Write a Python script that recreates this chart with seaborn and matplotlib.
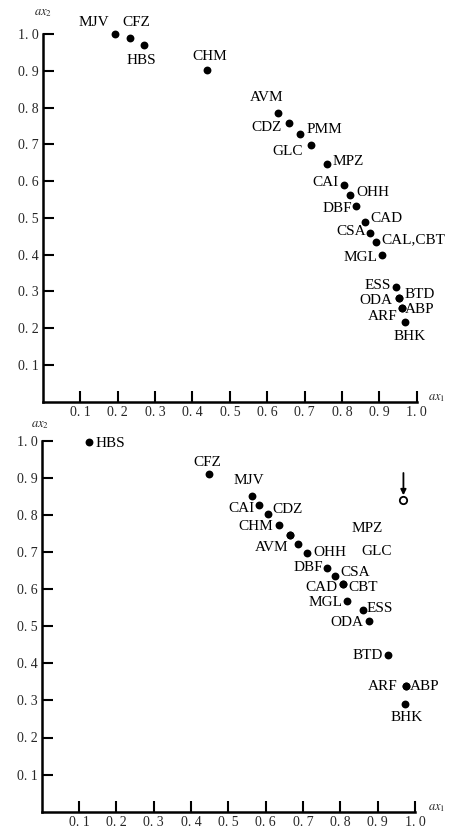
import matplotlib
matplotlib.use("Agg")
import matplotlib.pyplot as plt
import seaborn as sns
import pandas as pd

# ---------------- data ----------------
top_names = ["MJV", "CFZ", "HBS", "CHM", "AVM", "CDZ", "PMM", "GLC", "MPZ", "CAI",
             "OHH", "DBF", "CAD", "CSA", "CAL,CBT", "MGL", "ESS", "ODA", "BTD",
             "ARF", "ABP", "BHK"]
top_x = [0.194, 0.234, 0.271, 0.438, 0.629, 0.659, 0.689, 0.717, 0.760, 0.805,
         0.822, 0.838, 0.861, 0.874, 0.892, 0.907, 0.945, 0.952, 0.952,
         0.960, 0.960, 0.970]
top_y = [0.999, 0.988, 0.969, 0.901, 0.786, 0.757, 0.728, 0.697, 0.646, 0.588,
         0.563, 0.533, 0.490, 0.459, 0.433, 0.399, 0.313, 0.282, 0.282,
         0.254, 0.254, 0.218]

bot_names = ["HBS", "CFZ", "MJV", "CAI", "CDZ", "CHM", "MPZ", "GLC", "AVM", "OHH",
             "DBF", "CSA", "CAD", "CBT", "MGL", "ESS", "ODA", "BTD", "ARF", "ABP", "BHK"]
bot_x = [0.128, 0.448, 0.563, 0.583, 0.606, 0.637, 0.665, 0.665, 0.686, 0.712,
         0.764, 0.786, 0.808, 0.808, 0.817, 0.862, 0.878, 0.927, 0.976, 0.976, 0.973]
bot_y = [0.996, 0.910, 0.851, 0.826, 0.802, 0.773, 0.746, 0.746, 0.721, 0.696,
         0.658, 0.635, 0.613, 0.613, 0.568, 0.543, 0.515, 0.422, 0.338, 0.338, 0.291]

bot_outlier_x = [0.969]
bot_outlier_y = [0.841]

x_ticks = [0.1, 0.2, 0.3, 0.4, 0.5, 0.6, 0.7, 0.8, 0.9, 1.0]
x_ticklabels = ["0. 1", "0. 2", "0. 3", "0. 4", "0. 5", "0. 6", "0. 7", "0. 8", "0. 9", "1. 0"]
y_ticks = [0.1, 0.2, 0.3, 0.4, 0.5, 0.6, 0.7, 0.8, 0.9, 1.0]
y_ticklabels = ["0. 1", "0. 2", "0. 3", "0. 4", "0. 5", "0. 6", "0. 7", "0. 8", "0. 9", "1. 0"]

# label placement (pixel offsets, alignment)
top_offsets = {
    "MJV": (-6, 12, "right"), "CFZ": (6, 16, "center"), "HBS": (-3, -15, "center"),
    "CHM": (3, 14, "center"), "AVM": (-11, 15, "center"), "CDZ": (-8, -4, "right"),
    "PMM": (6, 5, "left"), "GLC": (-8, -6, "right"), "MPZ": (6, 3, "left"),
    "CAI": (-5, 3, "right"), "OHH": (6, 2, "left"), "DBF": (-4, -3, "right"),
    "CAD": (6, 3, "left"), "CSA": (-4, 1, "right"), "CAL,CBT": (5, 3, "left"),
    "MGL": (-4, -3, "right"), "ESS": (-5, 1, "right"), "ODA": (-6, -2, "right"),
    "BTD": (6, 4, "left"), "ARF": (-4, -8, "right"), "ABP": (3, -1, "left"),
    "BHK": (4, -15, "center"),
}
bot_offsets = {
    "HBS": (6, -1, "left"), "CFZ": (-2, 12, "center"), "MJV": (-3, 15, "center"),
    "CAI": (-5, -3, "right"), "CDZ": (4, 5, "left"), "CHM": (-6, -2, "right"),
    "MPZ": (77, 6, "center"), "GLC": (87, -17, "center"), "AVM": (-9, -3, "right"),
    "OHH": (6, 1, "left"), "DBF": (-4, 0, "right"), "CSA": (5, 4, "left"),
    "CAD": (-6, -3, "right"), "CBT": (5, -3, "left"), "MGL": (-4, -2, "right"),
    "ESS": (3, 2, "left"), "ODA": (-6, -2, "right"), "BTD": (-5, 0, "right"),
    "ARF": (-8, 0, "right"), "ABP": (4, 0, "left"), "BHK": (2, -14, "center"),
}

# ---------------- style ----------------
sns.set_style("ticks")
plt.rcParams["font.family"] = ["Liberation Serif", "DejaVu Serif"]
plt.rcParams["mathtext.fontset"] = "stix"

W, H = 452, 833
fig = plt.figure(figsize=(W / 100, H / 100), dpi=100)

ax_top = fig.add_axes([43 / W, 1 - 401.7 / H, (416.7 - 43) / W, (401.7 - 34) / H])
ax_bot = fig.add_axes([41.6 / W, 1 - 811.7 / H, (415 - 41.6) / W, (811.7 - 440.7) / H])

df_top = pd.DataFrame({"name": top_names, "x": top_x, "y": top_y})
df_bot = pd.DataFrame({"name": bot_names, "x": bot_x, "y": bot_y})

label_font = dict(fontsize=11, fontweight="normal", color="black")


def draw(ax, df, offsets):
    sns.scatterplot(data=df, x="x", y="y", ax=ax, color="black", s=32,
                    edgecolor="black", linewidth=0, clip_on=False, legend=False)
    for _, r in df.iterrows():
        dx, dy, ha = offsets[r["name"]]
        ax.annotate(r["name"], (r["x"], r["y"]), xytext=(dx, dy),
                    textcoords="offset pixels", ha=ha, va="center",
                    annotation_clip=False, **label_font)
    ax.set_xlim(0, 1.0)
    ax.set_ylim(0, 1.0)
    ax.set_xticks(x_ticks)
    ax.set_xticklabels(x_ticklabels, fontsize=10)
    ax.set_yticks(y_ticks)
    ax.set_yticklabels(y_ticklabels, fontsize=10)
    ax.tick_params(direction="in", length=8, width=1.5, color="black", pad=3)
    ax.set_xlabel("")
    ax.set_ylabel("")
    for s in ["top", "right"]:
        ax.spines[s].set_visible(False)
    for s in ["left", "bottom"]:
        ax.spines[s].set_linewidth(1.8)
        ax.spines[s].set_color("black")
    ax.set_facecolor("white")


draw(ax_top, df_top, top_offsets)
draw(ax_bot, df_bot, bot_offsets)

# outlier marker with arrow in lower panel
for ox, oy in zip(bot_outlier_x, bot_outlier_y):
    ax_bot.scatter([ox], [oy], s=28, facecolor="white", edgecolor="black",
                   linewidth=1.3, zorder=5, clip_on=False)
    ax_bot.annotate("", xy=(ox, oy + 0.012), xytext=(ox, oy + 0.072),
                    arrowprops=dict(arrowstyle="-|>", lw=1.3, color="black",
                                    mutation_scale=8, shrinkA=0, shrinkB=0))

# axis names
fig.text(43 / W, 1 - 13 / H, r"$ax_2$", ha="center", va="center", fontsize=9)
fig.text(40 / W, 1 - 425 / H, r"$ax_2$", ha="center", va="center", fontsize=9)
fig.text(437 / W, 1 - 398 / H, r"$ax_1$", ha="center", va="center", fontsize=9)
fig.text(437 / W, 1 - 808 / H, r"$ax_1$", ha="center", va="center", fontsize=9)

fig.savefig("out.png", dpi=100, facecolor="white")
